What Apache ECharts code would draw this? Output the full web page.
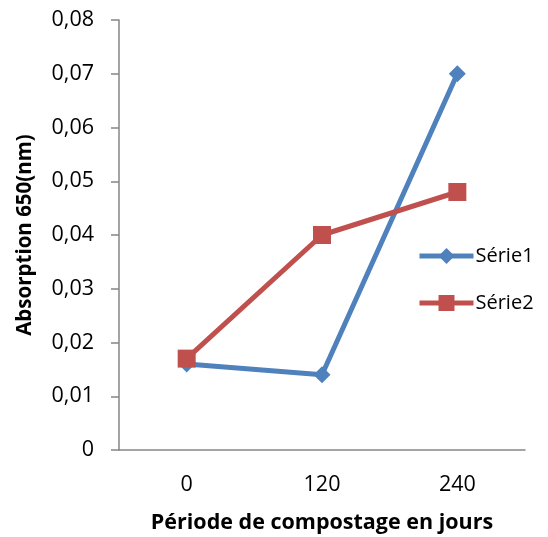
<!DOCTYPE html>
<html>
<head>
<meta charset="utf-8">
<script src="https://cdn.jsdelivr.net/npm/echarts@6/dist/echarts.min.js"></script>
<style>html,body{margin:0;padding:0;background:#fff}#c{width:548px;height:537px}</style>
</head>
<body>
<div id="c"></div>
<script>
const categories = ['0', '120', '240'];
const serie1 = [0.016, 0.014, 0.070];
const serie2 = [0.017, 0.040, 0.048];
const seriesNames = ['Série1', 'Série2'];
const xTitle = 'Période de compostage en jours';
const yTitle = 'Absorption 650(nm)';

const FONT = '"Open Sans", "Liberation Sans", sans-serif';
const chart = echarts.init(document.getElementById('c'));
chart.setOption({
  animation: false,
  textStyle: { fontFamily: FONT },
  grid: { left: 119, right: 23, top: 20, bottom: 87, containLabel: false, outerBoundsMode: 'none' },
  legend: {
    orient: 'vertical', left: 417, top: 246, itemGap: 27, padding: 0,
    itemWidth: 54, itemHeight: 20,
    lineStyle: { width: 5 },
    textStyle: { fontSize: 20, color: '#000', fontFamily: FONT, padding: [0,0,0,-3] },
    data: seriesNames
  },
  xAxis: {
    type: 'category', data: categories, boundaryGap: true,
    name: xTitle, nameLocation: 'middle', nameGap: 62,
    nameTextStyle: { fontSize: 21.5, fontWeight: 'bold', color: '#000', fontFamily: FONT },
    axisLine: { lineStyle: { color: '#868686', width: 1.5 } },
    axisTick: { length: 7, lineStyle: { color: '#868686', width: 1.5 } },
    axisLabel: { fontSize: 21.5, color: '#000', margin: 24, fontFamily: FONT },
    splitLine: { show: false }
  },
  yAxis: {
    type: 'value', min: 0, max: 0.08, interval: 0.01,
    name: yTitle, nameLocation: 'middle', nameGap: 83, nameRotate: 90,
    nameTextStyle: { fontSize: 20.5, fontWeight: 'bold', color: '#000', fontFamily: FONT },
    axisLine: { show: true, lineStyle: { color: '#868686', width: 1.5 } },
    axisTick: { show: true, length: 8, inside: false, lineStyle: { color: '#868686', width: 1.5 } },
    axisLabel: { fontSize: 21.5, color: '#000', margin: 25, fontFamily: FONT,
      formatter: v => v === 0 ? '0' : v.toFixed(2).replace('.', ',') },
    splitLine: { show: false }
  },
  series: [
    { name: seriesNames[0], type: 'line', data: serie1, symbol: 'diamond', symbolSize: 17,
      itemStyle: { color: '#4F81BD' }, lineStyle: { color: '#4F81BD', width: 5 }, z: 2 },
    { name: seriesNames[1], type: 'line', data: serie2, symbol: 'rect', symbolSize: 18,
      itemStyle: { color: '#C0504D' }, lineStyle: { color: '#C0504D', width: 5 }, z: 3 }
  ]
});
</script>
</body>
</html>
